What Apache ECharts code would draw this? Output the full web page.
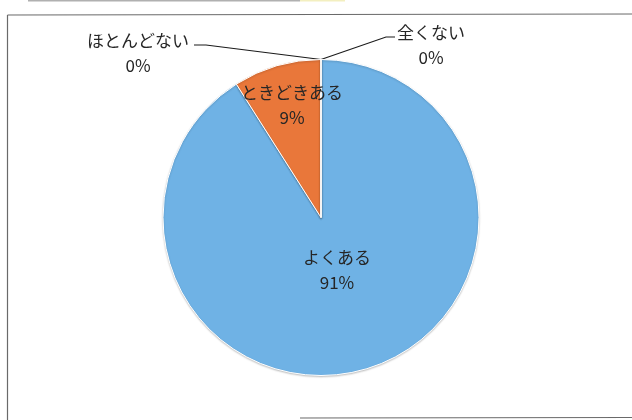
<!DOCTYPE html>
<html><head><meta charset="utf-8">
<script src="https://cdn.jsdelivr.net/npm/echarts@6/dist/echarts.min.js"></script>
<style>html,body{margin:0;padding:0;background:#fff}#c{width:632px;height:420px}</style>
</head><body><div id="c"></div>
<script>
const categories = ['よくある', 'ときどきある', 'ほとんどない', '全くない'];
const values = [91, 9, 0, 0];
const sliceColors = ['#6FB2E5', '#E9773A', '#A5A5A5', '#FFC000'];

// label block centres (layout config)
const labelAnchors = { 0: [337, 270], 1: [292, 105], 2: [138, 53], 3: [431, 45] };

const chart = echarts.init(document.getElementById('c'));
chart.setOption({
  animation: false,
  color: sliceColors,
  graphic: [
    { type: 'line', shape: { x1: 28, y1: 0.5, x2: 300, y2: 0.5 }, style: { stroke: '#b0b0b0', lineWidth: 2 } },
    { type: 'line', shape: { x1: 300, y1: 0.5, x2: 345, y2: 0.5 }, style: { stroke: '#f3efc0', lineWidth: 2 } },
    { type: 'line', shape: { x1: 7.5, y1: 15, x2: 632, y2: 14 }, style: { stroke: '#6a6a6a', lineWidth: 1.2 } },
    { type: 'line', shape: { x1: 7.5, y1: 15, x2: 7.5, y2: 420 }, style: { stroke: '#6a6a6a', lineWidth: 1.2 } },
    { type: 'line', shape: { x1: 300, y1: 418, x2: 632, y2: 417.5 }, style: { stroke: '#6a6a6a', lineWidth: 1.2 } }
  ],
  series: [{
    type: 'pie',
    center: [321, 217.5],
    radius: 158,
    startAngle: 90,
    clockwise: true,
    avoidLabelOverlap: false,
    percentPrecision: 0,
    itemStyle: { borderColor: '#ffffff', borderWidth: 1, shadowColor: 'rgba(0,0,0,0.22)', shadowBlur: 2, shadowOffsetY: 1 },
    label: {
      formatter: '{b}\n{d}%',
      fontFamily: '"Noto Sans CJK JP", sans-serif',
      fontSize: 17,
      lineHeight: 25,
      color: '#262626',
      align: 'center'
    },
    labelLine: { show: true, length: 10, length2: 10, lineStyle: { color: '#1a1a1a', width: 1.1 } },
    data: categories.map(function (n, i) {
      return {
        name: n,
        value: values[i],
        label: { position: i < 2 ? 'inside' : 'outside' },
        labelLine: { show: i >= 2 }
      };
    }),
    labelLayout: function (p) {
      const a = labelAnchors[p.dataIndex];
      const w = p.labelRect.width, h = p.labelRect.height;
      const res = { x: a[0], y: a[1], align: 'center', verticalAlign: 'middle' };
      if (p.dataIndex >= 2 && p.labelLinePoints) {
        const top = a[1] - h / 2, ly = top + 17;
        const pts = p.labelLinePoints;
        if (p.dataIndex === 2) {
          const r = a[0] + w / 2;
          res.labelLinePoints = [pts[0], [r + 17, ly], [r + 5, ly]];
        } else {
          const l = a[0] - w / 2;
          res.labelLinePoints = [pts[0], [l - 11, ly], [l - 2, ly]];
        }
      }
      return res;
    }
  }]
});
</script>
</body></html>
